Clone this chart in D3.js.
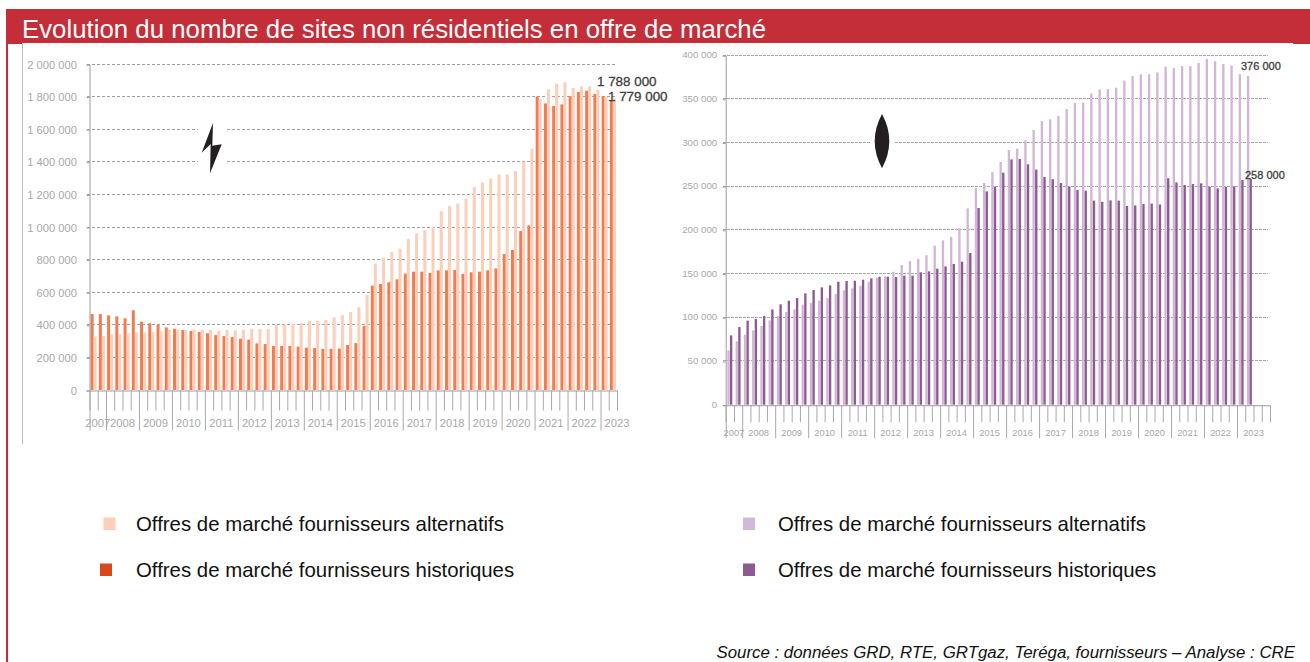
<!DOCTYPE html>
<html lang="fr">
<head>
<meta charset="utf-8">
<title>Evolution du nombre de sites non résidentiels en offre de marché</title>
<script src="https://cdn.jsdelivr.net/npm/d3@7"></script>
<style>
  html, body { margin: 0; padding: 0; background: #fff; overflow: hidden; }
  svg { display: block; font-family: "Liberation Sans", sans-serif; }
</style>
</head>
<body>
<div id="chart"></div>
<script>
// Textes
const titre = "Evolution du nombre de sites non résidentiels en offre de marché";
const source = "Source : données GRD, RTE, GRTgaz, Teréga, fournisseurs – Analyse : CRE";
const legendeAlt = "Offres de marché fournisseurs alternatifs";
const legendeHist = "Offres de marché fournisseurs historiques";

// Années et nombre de trimestres affichés pour chaque année
const annees = ["2007","2008","2009","2010","2011","2012","2013","2014","2015","2016","2017","2018","2019","2020","2021","2022","2023"];
const trimElec = [2,4,4,4,4,4,4,4,4,4,4,4,4,4,4,4,2];
const trimGaz = [2,4,4,4,4,4,4,4,4,4,4,4,4,4,4,4,4];
// largeur (en trimestres) utilisée pour centrer le libellé de chaque année
const largeurAnnee = [2,4,4,4,4,4,4,4,4,4,4,4,4,4,4,4,4];

// Electricité : sites (lecture sur le graphique)
const elecHist = [466000,466000,458000,452000,440000,489000,419000,409000,399000,384000,376000,368000,362000,356000,348000,337000,331000,325000,315000,309000,286000,282000,270000,270000,270000,266000,260000,258000,252000,252000,254000,276000,288000,393000,640000,650000,661000,679000,714000,726000,726000,718000,734000,734000,736000,712000,722000,726000,734000,746000,834000,859000,975000,1010000,1800000,1758000,1742000,1752000,1803000,1828000,1836000,1816000,1804000,1779000];
const elecAlt = [329000,331000,342000,344000,348000,354000,354000,356000,362000,368000,370000,368000,372000,370000,370000,362000,368000,366000,370000,374000,374000,374000,397000,401000,405000,411000,423000,423000,429000,446000,460000,479000,509000,583000,775000,812000,847000,867000,926000,961000,981000,1002000,1098000,1129000,1145000,1172000,1245000,1274000,1298000,1323000,1323000,1344000,1401000,1479000,1783000,1845000,1880000,1888000,1853000,1863000,1863000,1840000,1800000,1788000];

// Gaz : sites (lecture sur le graphique)
const gazAlt = [62200,72400,80000,85000,90000,96500,101400,106000,109000,114400,116300,119000,122000,126600,130800,133000,136000,140700,145300,146800,152000,159800,164300,166600,171000,182000,188000,192000,201700,224600,247800,253600,266000,277600,291300,292800,302400,314200,324500,326400,330200,338200,345000,345400,356000,360700,361000,362600,370600,376000,377900,377900,380000,386600,385000,387300,387300,391000,395400,393000,389700,388000,378000,376000];
const gazHist = [79300,88800,96100,98000,101400,109000,114800,119000,122000,127400,131200,134200,136500,140700,141500,141800,143000,144500,146400,146400,146000,147600,147600,151400,152500,155600,158200,161000,163600,173500,225000,244000,249400,265400,280600,281000,275000,269000,260400,258000,253600,249400,245600,244800,233400,232000,233700,233400,227300,228000,229500,230000,229000,259000,254300,251300,252400,253200,249000,247500,249000,249700,257000,258000];

const graduationsElec = [0,200000,400000,600000,800000,1000000,1200000,1400000,1600000,1800000,2000000];
const graduationsGaz = [0,50000,100000,150000,200000,250000,300000,350000,400000];

const width = 1310;
const height = 662;
const rouge = "#c32e39";
const grisTexte = "#a8a8a8";
const grisAxe = "#9c9c9c";

const fr = d3.formatLocale({ decimal: ",", thousands: " ", grouping: [3], currency: ["", " €"] });
const formatSites = fr.format(",d");

const svg = d3.select("#chart").append("svg").attr("width", width).attr("height", height);

// Bandeau titre et cadre
svg.append("rect").attr("x", 6).attr("y", 9).attr("width", width - 6).attr("height", 34).attr("fill", rouge);
svg.append("rect").attr("x", 6).attr("y", 43).attr("width", 16).attr("height", 1).attr("fill", rouge);
svg.append("rect").attr("x", 1293).attr("y", 43).attr("width", 17).attr("height", 1).attr("fill", rouge);
svg.append("rect").attr("x", 6).attr("y", 9).attr("width", 2).attr("height", height - 9).attr("fill", rouge);
svg.append("line").attr("x1", 22.5).attr("x2", 22.5).attr("y1", 44).attr("y2", 444).attr("stroke", "#bdbdbd");

svg.append("text")
    .attr("x", 22).attr("y", 38)
    .attr("fill", "#fff")
    .style("font-size", "25.5px")
    .attr("textLength", 744)
    .attr("lengthAdjust", "spacingAndGlyphs")
    .text(titre);

function drawPanel(o) {
    // une catégorie par trimestre, construite à partir des années
    const categories = [];
    o.annees.forEach((a, i) => d3.range(o.trimestres[i]).forEach(t => categories.push(a + "-" + t)));
    const n = categories.length;

    const x = d3.scaleBand().domain(categories).range([o.left, o.right]).paddingInner(o.pad).paddingOuter(o.pad / 2);
    const xSerie = d3.scaleBand().domain(o.series.map(s => s.nom)).range([0, x.bandwidth()]).paddingInner(o.gap);
    const xBord = d3.scaleLinear().domain([0, n]).range([o.left, o.right]);
    const y = d3.scaleLinear().domain(o.domaine).range([o.bottom, o.top]);

    // Grille en pointillés
    svg.append("g").selectAll("line")
        .data(o.graduations.filter(d => d > 0))
        .join("line")
        .attr("x1", o.left - 3)
        .attr("x2", o.gridEnd)
        .attr("y1", d => Math.floor(y(d)) + 0.5)
        .attr("y2", d => Math.floor(y(d)) + 0.5)
        .attr("stroke", o.couleurGrille)
        .attr("stroke-dasharray", o.dash)
        .attr("shape-rendering", "crispEdges");

    // Icône (sur un fond blanc qui coupe la grille)
    svg.append("rect")
        .attr("x", o.icone.x).attr("y", o.icone.y)
        .attr("width", o.icone.w).attr("height", o.icone.h)
        .attr("fill", "#fff");
    svg.append("path").attr("d", o.icone.d).attr("fill", "#231f20");

    // Barres
    o.series.forEach(s => {
        svg.append("g").selectAll("rect")
            .data(s.valeurs)
            .join("rect")
            .attr("x", (d, i) => x(categories[i]) + xSerie(s.nom))
            .attr("y", d => y(d))
            .attr("width", xSerie.bandwidth())
            .attr("height", d => y(0) - y(d))
            .attr("fill", s.couleur);
    });

    // Axe Y
    const axeY = svg.append("g")
        .attr("transform", `translate(${o.left},0.5)`)
        .call(d3.axisLeft(y).tickValues(o.graduations).tickFormat(formatSites).tickSize(3).tickPadding(o.yPad));
    axeY.select(".domain").attr("stroke", grisAxe);
    axeY.selectAll("line").attr("stroke", grisAxe);
    axeY.selectAll("text")
        .attr("fill", grisTexte)
        .attr("dy", o.dyY)
        .style("font-family", "'Liberation Sans', sans-serif")
        .style("font-size", o.tailleY + "px");

    // Axe X : un trait par trimestre, plus long au changement d'année
    const majeurs = new Set(d3.cumsum(o.trimestres));
    majeurs.add(0);
    const axeX = svg.append("g")
        .attr("transform", `translate(0,${o.bottom + 0.5})`)
        .call(d3.axisBottom(xBord).tickValues(d3.range(n + 1)).tickFormat("").tickSize(o.tickMineur));
    axeX.select(".domain").attr("stroke", grisAxe);
    axeX.selectAll(".tick line")
        .attr("stroke", "#a8a8a8")
        .attr("y2", d => majeurs.has(d) && d < n ? o.tickMajeur : o.tickMineur);

    // Années centrées sous leurs trimestres
    let cumul = 0;
    o.annees.forEach((a, i) => {
        svg.append("text")
            .attr("x", xBord(cumul + largeurAnnee[i] / 2))
            .attr("y", o.yAnnee)
            .attr("text-anchor", "middle")
            .attr("fill", grisTexte)
            .style("font-size", o.tailleAnnee + "px")
            .text(a);
        cumul += o.trimestres[i];
    });

    // Valeurs finales
    o.etiquettes.forEach(e => {
        svg.append("text")
            .attr("x", e.x).attr("y", e.y)
            .attr("fill", "#404040")
            .attr("stroke", "#404040")
            .attr("stroke-width", 0.3)
            .style("font-size", o.tailleEtiquette + "px")
            .text(formatSites(e.valeur));
    });

    // Légende
    o.legende.forEach(l => {
        svg.append("rect")
            .attr("x", l.x).attr("y", l.y - 12.5)
            .attr("width", 12).attr("height", 12.5)
            .attr("fill", l.couleur);
        svg.append("text")
            .attr("x", o.xLegende).attr("y", l.y + 0.5)
            .attr("fill", "#111")
            .style("font-size", "20.4px")
            .text(l.texte);
    });
}

drawPanel({
    annees: annees,
    trimestres: trimElec,
    series: [
        { nom: "hist", valeurs: elecHist, couleur: "#f27c52" },
        { nom: "alt", valeurs: elecAlt, couleur: "#fbcfba" }
    ],
    graduations: graduationsElec,
    domaine: [0, 2000000],
    left: 89.5, right: 617, top: 64, bottom: 390,
    gridEnd: 617,
    pad: 0.27, gap: 0,
    dash: "3 2",
    couleurGrille: "#a0a0a0",
    yPad: 9.5, tailleY: 11.2, dyY: "0.32em",
    tickMineur: 20, tickMajeur: 40,
    yAnnee: 427, tailleAnnee: 11.2,
    tailleEtiquette: 13.4,
    etiquettes: [
        { valeur: 1788000, x: 597, y: 85.5 },
        { valeur: 1779000, x: 608, y: 101 }
    ],
    icone: {
        x: 198, y: 120, w: 27, h: 55,
        d: "M213,123 L201.7,152.7 L210.7,144 L210,173.3 L221.7,144.3 L212.3,145.7 Z"
    },
    xLegende: 136,
    legende: [
        { x: 103.5, y: 530, couleur: "#fbcfb8", texte: legendeAlt },
        { x: 100, y: 576, couleur: "#d9481a", texte: legendeHist }
    ]
});

drawPanel({
    annees: annees,
    trimestres: trimGaz,
    series: [
        { nom: "alt", valeurs: gazAlt, couleur: "#d2b6d5" },
        { nom: "hist", valeurs: gazHist, couleur: "#8e5a92" }
    ],
    graduations: graduationsGaz,
    domaine: [0, 400000],
    left: 725.7, right: 1270, top: 55, bottom: 404.7,
    gridEnd: 1268,
    pad: 0.4, gap: 0.1,
    dash: "3 1",
    couleurGrille: "#a6a6a6",
    yPad: 5.5, tailleY: 9.7, dyY: "0.22em",
    tickMineur: 17, tickMajeur: 33,
    yAnnee: 435.5, tailleAnnee: 9.3,
    tailleEtiquette: 11,
    etiquettes: [
        { valeur: 376000, x: 1241, y: 69.5 },
        { valeur: 258000, x: 1245, y: 179 }
    ],
    icone: {
        x: 870, y: 110, w: 24, h: 62,
        d: "M882,114 Q867.4,141 882,168.3 Q896.6,141 882,114 Z"
    },
    xLegende: 778,
    legende: [
        { x: 743, y: 530, couleur: "#d0b8d6", texte: legendeAlt },
        { x: 743, y: 576, couleur: "#8c5b90", texte: legendeHist }
    ]
});

svg.append("text")
    .attr("x", 1295).attr("y", 658)
    .attr("text-anchor", "end")
    .attr("fill", "#111")
    .style("font-size", "16.85px")
    .style("font-style", "italic")
    .text(source);
</script>
</body>
</html>
